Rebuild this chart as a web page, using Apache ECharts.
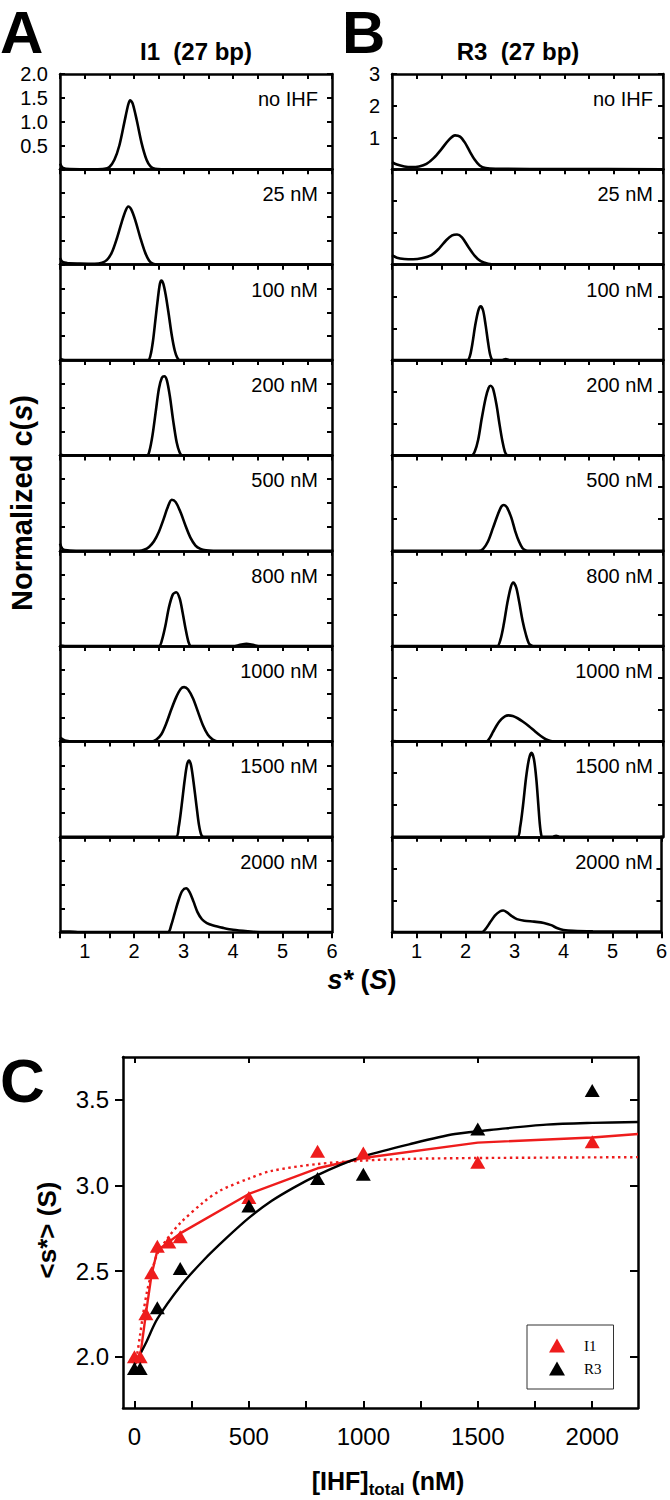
<!DOCTYPE html>
<html><head><meta charset="utf-8">
<script src="https://cdn.jsdelivr.net/npm/echarts@6/dist/echarts.min.js"></script>
<style>html,body{margin:0;padding:0;background:#fff}#c{width:670px;height:1500px}</style>
</head><body><div id="c"></div>
<script>
const FONT = '"Liberation Sans", Arial, Helvetica, sans-serif';
const SERIF = '"Liberation Serif", "Times New Roman", serif';

// ---- Panel A / B: normalized c(s) distributions ----
const concLabels = ['no IHF','25 nM','100 nM','200 nM','500 nM','800 nM','1000 nM','1500 nM','2000 nM'];

const i1_noIHF = [[0.5,0.12],[0.56,0.03],[0.7,0.005],[1.2,0],[1.4,0.01],[1.5,0.05],[1.6,0.2],[1.7,0.5],[1.8,0.98],[1.88,1.36],[1.92,1.45],[1.97,1.38],[2.05,1.04],[2.15,0.55],[2.25,0.2],[2.33,0.06],[2.42,0.01],[2.55,0],[6,0]];
const i1_25 = [[0.5,0.14],[0.55,0.06],[0.65,0.035],[0.9,0.025],[1.2,0.02],[1.35,0.04],[1.45,0.1],[1.55,0.26],[1.65,0.55],[1.75,0.9],[1.83,1.14],[1.88,1.22],[1.94,1.16],[2.02,0.94],[2.12,0.58],[2.22,0.26],[2.3,0.09],[2.38,0.02],[2.5,0],[6,0]];
const i1_100 = [[0.5,0.03],[0.6,0],[2.28,0],[2.33,0.1],[2.38,0.4],[2.43,0.85],[2.48,1.3],[2.52,1.6],[2.55,1.67],[2.59,1.6],[2.64,1.35],[2.7,0.95],[2.76,0.52],[2.82,0.2],[2.87,0.05],[2.92,0],[6,0]];
const i1_200 = [[0.5,0.02],[0.6,0],[2.26,0],[2.31,0.1],[2.37,0.42],[2.44,0.95],[2.5,1.4],[2.56,1.63],[2.61,1.66],[2.66,1.58],[2.72,1.25],[2.79,0.72],[2.86,0.27],[2.92,0.06],[2.97,0],[6,0]];
const i1_500 = [[0.5,0.15],[0.55,0.04],[0.65,0.01],[0.9,0],[2.1,0],[2.2,0.02],[2.3,0.08],[2.4,0.2],[2.5,0.4],[2.6,0.68],[2.68,0.92],[2.76,1.07],[2.84,1.02],[2.94,0.8],[3.04,0.52],[3.14,0.27],[3.24,0.11],[3.34,0.04],[3.45,0.01],[3.6,0],[6,0]];
const i1_800 = [[0.5,0.01],[0.6,0],[2.5,0],[2.56,0.12],[2.63,0.42],[2.7,0.8],[2.78,1.08],[2.85,1.13],[2.92,1.0],[2.98,0.7],[3.04,0.36],[3.1,0.08],[3.15,0],[4.0,0],[4.12,0.02],[4.27,0.05],[4.42,0.02],[4.55,0],[6,0]];
const i1_1000 = [[0.5,0.08],[0.6,0.02],[0.8,0],[2.35,0],[2.45,0.04],[2.55,0.15],[2.65,0.38],[2.75,0.67],[2.85,0.93],[2.94,1.1],[3.01,1.14],[3.09,1.09],[3.19,0.9],[3.29,0.62],[3.39,0.34],[3.49,0.14],[3.59,0.04],[3.7,0],[6,0]];
const i1_1500 = [[0.5,0],[2.84,0],[2.9,0.2],[2.96,0.66],[3.02,1.18],[3.07,1.52],[3.11,1.6],[3.15,1.5],[3.2,1.15],[3.26,0.65],[3.31,0.25],[3.36,0.03],[3.41,0],[6,0]];
const i1_2000 = [[0.5,0.01],[0.7,0.01],[0.9,0],[2.68,0],[2.75,0.15],[2.82,0.4],[2.9,0.68],[2.97,0.86],[3.05,0.92],[3.12,0.84],[3.2,0.64],[3.28,0.42],[3.37,0.27],[3.47,0.19],[3.6,0.14],[3.8,0.09],[4.0,0.05],[4.3,0.02],[4.6,0],[6,0]];

const r3_noIHF = [[0.5,0.23],[0.6,0.15],[0.75,0.09],[0.9,0.07],[1.05,0.09],[1.2,0.17],[1.35,0.36],[1.5,0.63],[1.65,0.92],[1.78,1.07],[1.88,1.03],[1.98,0.84],[2.08,0.56],[2.18,0.3],[2.28,0.12],[2.4,0.04],[2.6,0.015],[4,0.01],[6,0]];
const r3_25 = [[0.5,0.3],[0.6,0.22],[0.75,0.18],[0.93,0.17],[1.1,0.2],[1.3,0.3],[1.45,0.5],[1.6,0.77],[1.72,0.92],[1.82,0.95],[1.92,0.86],[2.05,0.56],[2.18,0.28],[2.3,0.11],[2.45,0.03],[2.6,0.01],[6,0]];
const r3_100 = [[0.5,0],[2.03,0],[2.08,0.12],[2.13,0.5],[2.19,1.1],[2.25,1.55],[2.3,1.69],[2.35,1.55],[2.4,1.1],[2.45,0.55],[2.49,0.18],[2.53,0.01],[2.56,0],[2.74,0],[2.81,0.03],[2.88,0],[6,0]];
const r3_200 = [[0.5,0],[2.12,0],[2.18,0.12],[2.25,0.5],[2.32,1.15],[2.4,1.8],[2.46,2.12],[2.5,2.19],[2.55,2.1],[2.62,1.6],[2.68,1.0],[2.74,0.45],[2.79,0.12],[2.83,0.01],[2.87,0],[6,0]];
const r3_500 = [[0.5,0],[2.26,0],[2.35,0.06],[2.45,0.3],[2.55,0.72],[2.65,1.15],[2.72,1.39],[2.77,1.44],[2.83,1.37],[2.92,1.05],[3.0,0.62],[3.08,0.28],[3.15,0.08],[3.22,0.01],[3.3,0],[6,0]];
const r3_800 = [[0.5,0],[2.63,0],[2.7,0.2],[2.77,0.7],[2.84,1.35],[2.91,1.85],[2.96,2.0],[3.02,1.85],[3.08,1.4],[3.15,0.8],[3.22,0.35],[3.28,0.08],[3.34,0.01],[3.4,0],[6,0]];
const r3_1000 = [[0.5,0.01],[0.8,0],[2.41,0],[2.48,0.1],[2.55,0.3],[2.63,0.52],[2.72,0.7],[2.8,0.8],[2.86,0.82],[2.95,0.8],[3.05,0.73],[3.16,0.62],[3.28,0.48],[3.4,0.32],[3.52,0.17],[3.62,0.07],[3.72,0.01],[3.8,0],[6,0]];
const r3_1500 = [[0.5,0],[3.04,0],[3.1,0.3],[3.16,1.0],[3.22,1.85],[3.28,2.45],[3.33,2.64],[3.38,2.45],[3.43,1.8],[3.47,1.0],[3.5,0.4],[3.53,0.05],[3.56,0],[3.76,0],[3.83,0.03],[3.9,0],[6,0]];
const r3_2000 = [[0.5,0.01],[0.8,0],[2.33,0],[2.4,0.08],[2.5,0.3],[2.6,0.52],[2.7,0.65],[2.77,0.68],[2.85,0.62],[2.95,0.5],[3.05,0.41],[3.2,0.36],[3.4,0.33],[3.6,0.29],[3.75,0.22],[3.88,0.12],[4.0,0.07],[4.2,0.04],[4.6,0.025],[5.5,0.02],[6,0.02]];

const I1_SPECTRA = [i1_noIHF,i1_25,i1_100,i1_200,i1_500,i1_800,i1_1000,i1_1500,i1_2000];
const R3_SPECTRA = [r3_noIHF,r3_25,r3_100,r3_200,r3_500,r3_800,r3_1000,r3_1500,r3_2000];

// ---- Panel C: weight-average s* vs [IHF] ----
const conc_I1 = [0,25,50,75,100,150,200,500,800,1000,1500,2000];
const sAvg_I1 = [2.00,2.00,2.25,2.49,2.645,2.67,2.70,2.93,3.20,3.19,3.135,3.255];
const conc_R3 = [0,25,100,200,500,800,1000,1500,2000];
const sAvg_R3 = [1.93,1.93,2.285,2.515,2.88,3.04,3.065,3.33,3.555];

const fitX_I1 = [0,25,50,75,100,150,200,500,800,1000,1500,2000,2200];
const fitY_I1 = [1.99,2.00,2.25,2.48,2.62,2.67,2.72,2.95,3.10,3.16,3.25,3.28,3.30];
const dotX_I1 = [0,10,25,38,55,75,100,150,200,300,375,500,600,800,1000,1200,1500,2200];
const dotY_I1 = [1.95,2.0,2.13,2.25,2.38,2.49,2.6,2.7,2.78,2.9,2.97,3.04,3.085,3.125,3.145,3.155,3.16,3.165];
const fitX_R3 = [0,50,100,200,300,400,500,600,700,800,900,1000,1200,1400,1600,1800,2000,2200];
const fitY_R3 = [1.95,2.08,2.22,2.41,2.56,2.69,2.81,2.91,2.99,3.06,3.12,3.17,3.24,3.3,3.33,3.355,3.365,3.37];

const xTicksC = [0,250,500,750,1000,1250,1500,1750,2000];
const xLabelsC = [0,500,1000,1500,2000];
const yTicksC = [2.0,2.5,3.0,3.5];

const RED = '#ee1c1c';
const zip = (a,b)=>a.map((v,i)=>[v,b[i]]);

const option = {
  animation:false, backgroundColor:'#fff',
  textStyle:{fontFamily:FONT, color:'#000'},
  grid:[], xAxis:[], yAxis:[], series:[], graphic:[]
};

const rows = concLabels.length;
const panelTop = 74, panelH = 95.35;
const colDefs = [
  {left:60, width:272, ymax:2, yint:0.5, fmt:v=>v===0?'':v.toFixed(1), data:I1_SPECTRA, labelX:318},
  {left:392, width:271, ymax:3, yint:1, fmt:v=>v===0?'':String(v), data:R3_SPECTRA, labelX:653}
];
const axLine = {show:true, onZero:false, lineStyle:{color:'#000', width:2.5}};
const tickStyle = {color:'#000', width:2};
let g = 0;
colDefs.forEach(col=>{
  for(let r=0;r<rows;r++){
    const top = panelTop + r*panelH;
    const last = r===rows-1, first = r===0;
    option.grid.push({left:col.left, top:top, width:col.width, height:panelH});
    option.xAxis.push({gridIndex:g, type:'value', min:0.5, max:6, interval:0.5, position:'bottom',
      axisLine:axLine, axisTick:{show:last, inside:false, length:6, lineStyle:tickStyle},
      axisLabel:{show:last, color:'#000', fontSize:20, fontFamily:FONT, margin:9,
        formatter:v=>Number.isInteger(v)?String(v):''}, splitLine:{show:false}});
    option.xAxis.push({gridIndex:g, type:'value', min:0.5, max:6, interval:0.5, position:'top',
      axisLine:axLine, axisTick:{show:true, inside:true, length:5, lineStyle:tickStyle},
      axisLabel:{show:false}, splitLine:{show:false}});
    option.yAxis.push({gridIndex:g, type:'value', min:0, max:col.ymax, interval:col.yint, position:'left',
      axisLine:axLine, axisTick:{show:true, inside:true, length:5, lineStyle:tickStyle},
      axisLabel:{show:first, color:'#000', fontSize:20, fontFamily:FONT, margin:12, formatter:col.fmt},
      splitLine:{show:false}});
    option.yAxis.push({gridIndex:g, type:'value', min:0, max:col.ymax, interval:col.yint, position:'right',
      axisLine:axLine, axisTick:{show:true, inside:true, length:5, lineStyle:tickStyle},
      axisLabel:{show:false}, splitLine:{show:false}});
    option.series.push({type:'line', xAxisIndex:2*g, yAxisIndex:2*g, data:col.data[r],
      showSymbol:false, smooth:0.3, clip:true, silent:true,
      lineStyle:{color:'#000', width:2.6}});
    option.graphic.push({type:'text', x:col.labelX, y:top+25, silent:true,
      style:{text:concLabels[r], fill:'#000', fontSize:20, fontFamily:FONT, align:'right', verticalAlign:'middle'}});
    g++;
  }
});

// Panel C
const gC = g;
option.grid.push({left:123, top:1057, width:515, height:351});
option.xAxis.push({gridIndex:gC, type:'value', min:-50, max:2200, position:'bottom',
  axisLine:axLine, axisTick:{show:true, inside:true, length:7, customValues:xTicksC, lineStyle:tickStyle},
  axisLabel:{show:true, customValues:xLabelsC, formatter:v=>String(v), color:'#000', fontSize:24, fontFamily:FONT, margin:16},
  splitLine:{show:false}});
option.xAxis.push({gridIndex:gC, type:'value', min:-50, max:2200, position:'top',
  axisLine:axLine, axisTick:{show:true, inside:true, length:6, customValues:xLabelsC, lineStyle:tickStyle},
  axisLabel:{show:false}, splitLine:{show:false}});
option.yAxis.push({gridIndex:gC, type:'value', min:1.7, max:3.75, position:'left',
  axisLine:axLine, axisTick:{show:true, inside:false, length:8, customValues:yTicksC, lineStyle:tickStyle},
  axisLabel:{show:true, customValues:yTicksC, formatter:v=>v.toFixed(1), color:'#000', fontSize:24, fontFamily:FONT, margin:14},
  splitLine:{show:false}});
option.yAxis.push({gridIndex:gC, type:'value', min:1.7, max:3.75, position:'right',
  axisLine:axLine, axisTick:{show:true, inside:true, length:8, customValues:yTicksC, lineStyle:tickStyle},
  axisLabel:{show:false}, splitLine:{show:false}});
const xi = 2*gC, yi = 2*gC;
option.series.push(
  {type:'line', xAxisIndex:xi, yAxisIndex:yi, data:zip(dotX_I1,dotY_I1), showSymbol:false, smooth:0.3, silent:true,
   lineStyle:{color:RED, width:2.4, type:[2.5,3.5]}},
  {type:'line', xAxisIndex:xi, yAxisIndex:yi, data:zip(fitX_I1,fitY_I1), showSymbol:false, smooth:false, silent:true,
   lineStyle:{color:RED, width:2.4}},
  {type:'line', xAxisIndex:xi, yAxisIndex:yi, data:zip(fitX_R3,fitY_R3), showSymbol:false, smooth:0.3, silent:true,
   lineStyle:{color:'#000', width:2.4}},
  {name:'I1', type:'scatter', xAxisIndex:xi, yAxisIndex:yi, data:zip(conc_I1,sAvg_I1), symbol:'triangle', symbolSize:[15,13],
   itemStyle:{color:RED, opacity:1}, z:5},
  {name:'R3', type:'scatter', xAxisIndex:xi, yAxisIndex:yi, data:zip(conc_R3,sAvg_R3), symbol:'triangle', symbolSize:[15,13],
   itemStyle:{color:'#000', opacity:1}, z:6}
);
option.legend = {data:['I1','R3'], orient:'vertical', left:527, top:1325, itemWidth:16, itemHeight:14, itemGap:8,
  padding:[13,12,13,22], borderColor:'#333', borderWidth:1, selectedMode:false,
  itemStyle:{opacity:1},
  textStyle:{fontFamily:SERIF, fontSize:15, color:'#000', padding:[0,0,0,14]}};

// Texts
const bold = (size,extra)=>Object.assign({fontSize:size, fontWeight:'bold', fontFamily:FONT, fill:'#000'}, extra||{});
option.graphic.push(
  {type:'text', x:0, y:32, style:Object.assign(bold(60),{text:'A', align:'left', verticalAlign:'middle'})},
  {type:'text', x:342, y:32, style:Object.assign(bold(60),{text:'B', align:'left', verticalAlign:'middle'})},
  {type:'text', x:0, y:1080, style:Object.assign(bold(62),{text:'C', align:'left', verticalAlign:'middle'})},
  {type:'text', x:196, y:51, style:Object.assign(bold(24),{text:'I1\u00a0\u00a0(27 bp)', align:'center', verticalAlign:'middle'})},
  {type:'text', x:518, y:51, style:Object.assign(bold(24),{text:'R3\u00a0\u00a0(27 bp)', align:'center', verticalAlign:'middle'})},
  {type:'text', x:22, y:503, rotation:Math.PI/2, style:{text:'{a|Normalized c(}{i|s}{a|)}', align:'center', verticalAlign:'middle',
    rich:{a:bold(29), i:bold(29,{fontStyle:'italic'})}}},
  {type:'text', x:362, y:980, style:{text:'{i|s*}{a|\u00a0(}{i|S}{a|)}', align:'center', verticalAlign:'middle',
    rich:{a:bold(27), i:bold(27,{fontStyle:'italic'})}}},
  {type:'text', x:47, y:1230, rotation:Math.PI/2, style:Object.assign(bold(26),{text:'<s*> (S)', align:'center', verticalAlign:'middle'})},
  {type:'text', x:388, y:1481, style:{text:'{a|[IHF]}{b|total}{a|\u00a0(nM)}', align:'center', verticalAlign:'middle',
    rich:{a:bold(25,{lineHeight:34, verticalAlign:'middle'}), b:bold(17,{lineHeight:18, verticalAlign:'bottom'})}}}
);

const chart = echarts.init(document.getElementById('c'), null, {renderer:'svg', width:670, height:1500});
chart.setOption(option);
</script></body></html>
